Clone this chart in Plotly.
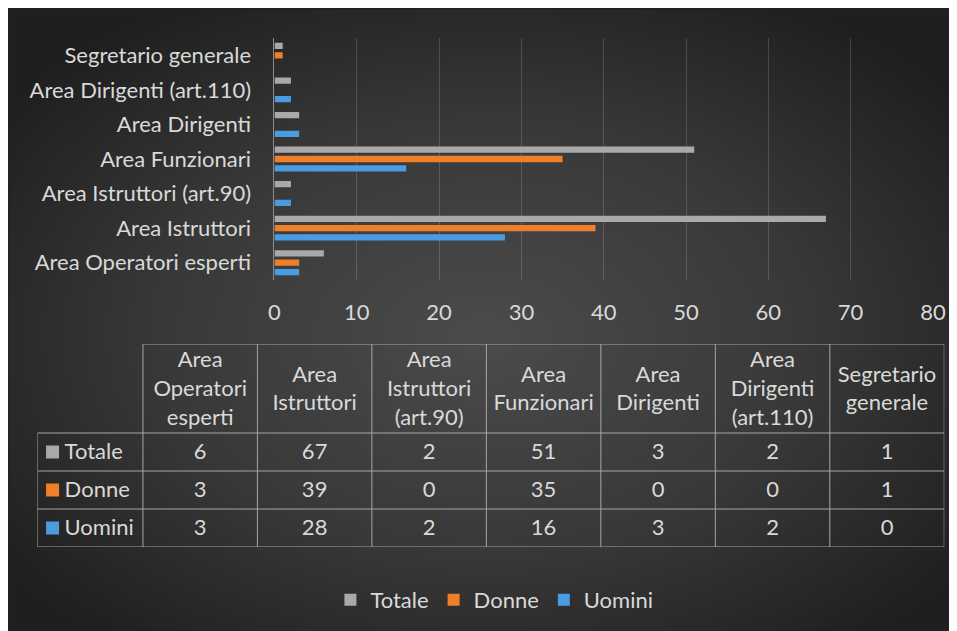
import base64
import plotly.graph_objects as go

# ---- data ----
categories = ["Area Operatori esperti", "Area Istruttori", "Area Istruttori (art.90)",
              "Area Funzionari", "Area Dirigenti", "Area Dirigenti (art.110)",
              "Segretario generale"]
table_headers = ["Area<br>Operatori<br>esperti", "Area<br>Istruttori", "Area<br>Istruttori<br>(art.90)",
                 "Area<br>Funzionari", "Area<br>Dirigenti", "Area<br>Dirigenti<br>(art.110)",
                 "Segretario<br>generale"]
totale = [6, 67, 2, 51, 3, 2, 1]
donne = [3, 39, 0, 35, 0, 0, 1]
uomini = [3, 28, 2, 16, 3, 2, 0]
x_ticks = [0, 10, 20, 30, 40, 50, 60, 70, 80]

series_names = ["Totale", "Donne", "Uomini"]
series_values = [totale, donne, uomini]
series_colors = ["#A9A9A9", "#F07F2A", "#4A9CE2"]

# table geometry (pixels): first column = row labels, first row = header
col_widths = [105] + [114] * len(categories)
row_heights = [89] + [38] * len(series_names)

W, H = 980, 631
FONT = "Lato"
FS = 22
TXT = "#D9D9D9"
LINE = "#A6A6A6"

# mapping from target window pixels to paper fractions
OX, PW = 14.6, 957.0
OY, PH = 8.0, 631.0
def fx(px):
    return (px - OX) / PW
def fy(py):
    return 1 - (py - OY) / PH

fig = go.Figure()

# ---- bars (bottom-to-top within group: Uomini, Donne, Totale) ----
for name, vals, col in reversed(list(zip(series_names, series_values, series_colors))):
    fig.add_trace(go.Bar(y=categories, x=vals, name=name, orientation="h",
                         marker=dict(color=col, line=dict(width=0)),
                         xaxis="x", yaxis="y", hoverinfo="x+name"))

# ---- data table drawn on its own axes (1 unit = 1 px) ----
x_edges = [0]
for w in col_widths:
    x_edges.append(x_edges[-1] + w)
y_edges = [0]
for h in row_heights:
    y_edges.append(y_edges[-1] + h)
x_cent = [(a + b) / 2 for a, b in zip(x_edges[:-1], x_edges[1:])]
y_cent = [(a + b) / 2 for a, b in zip(y_edges[:-1], y_edges[1:])]

fig.add_trace(go.Scatter(x=x_cent[1:], y=[y_cent[0] + 2] * len(categories), text=table_headers,
                         mode="text", textposition="middle center",
                         textfont=dict(family=FONT, size=FS, color=TXT),
                         xaxis="x2", yaxis="y2", showlegend=False, hoverinfo="skip"))
cx, cy, ct = [], [], []
for r, vals in enumerate(series_values):
    for c, v in enumerate(vals):
        cx.append(x_cent[c + 1])
        cy.append(y_cent[r + 1] + 1)
        ct.append(str(v))
fig.add_trace(go.Scatter(x=cx, y=cy, text=ct, mode="text", textposition="middle center",
                         textfont=dict(family=FONT, size=FS, color=TXT),
                         xaxis="x2", yaxis="y2", showlegend=False, hoverinfo="skip"))
fig.add_trace(go.Scatter(x=[15] * len(series_names), y=y_cent[1:], mode="markers",
                         marker=dict(symbol="square", size=13, color=series_colors,
                                     line=dict(width=0)),
                         xaxis="x2", yaxis="y2", showlegend=False, hoverinfo="skip"))
fig.add_trace(go.Scatter(x=[27] * len(series_names), y=[v + 1 for v in y_cent[1:]],
                         text=series_names, mode="text", textposition="middle right",
                         textfont=dict(family=FONT, size=FS, color=TXT),
                         xaxis="x2", yaxis="y2", showlegend=False, hoverinfo="skip"))

shapes = []
def seg(x0, y0, x1, y1):
    shapes.append(dict(type="line", xref="x2", yref="y2", x0=x0, y0=y0, x1=x1, y1=y1,
                       line=dict(color=LINE, width=1), layer="above"))
seg(x_edges[1], y_edges[0], x_edges[-1], y_edges[0])
for yv in y_edges[1:]:
    seg(x_edges[0], yv, x_edges[-1], yv)
seg(x_edges[0], y_edges[1], x_edges[0], y_edges[-1])
for xv in x_edges[1:]:
    seg(xv, y_edges[0], xv, y_edges[-1])

# ---- radial gradient background ----
svg = ('<svg xmlns="http://www.w3.org/2000/svg" viewBox="0 0 100 100" preserveAspectRatio="none">'
       '<defs><radialGradient id="g" cx="0.5" cy="0.52" r="0.62">'
       '<stop offset="0" stop-color="#4b4b4b"/><stop offset="0.55" stop-color="#383838"/>'
       '<stop offset="1" stop-color="#1f1f1f"/></radialGradient></defs>'
       '<rect x="0" y="0" width="100" height="100" fill="url(#g)"/></svg>')
src = "data:image/svg+xml;base64," + base64.b64encode(svg.encode()).decode()

tbl_x0, tbl_y0 = 38, 344

fig.update_layout(
    width=W, height=H,
    margin=dict(l=0, r=0, t=0, b=0),
    paper_bgcolor="#202020", plot_bgcolor="rgba(0,0,0,0)",
    font=dict(family=FONT, size=FS, color=TXT),
    barmode="group", bargap=0.19, bargroupgap=0.33,
    images=[dict(source=src, xref="paper", yref="paper", x=fx(9), y=fy(9),
                 sizex=fx(957) - fx(9), sizey=1, xanchor="left", yanchor="top",
                 sizing="stretch", layer="below")],
    shapes=shapes,
    xaxis=dict(domain=[fx(274), fx(929.7)], range=[0, 80], tickvals=x_ticks,
               showgrid=True, gridcolor="rgba(255,255,255,0.16)", gridwidth=1,
               zeroline=False, showline=False, ticks="", ticklabelstandoff=17,
               tickfont=dict(family=FONT, size=FS, color=TXT), fixedrange=True),
    yaxis=dict(domain=[fy(280), fy(38)], type="category",
               showline=True, linecolor="#8C8C8C", linewidth=1, ticks="",
               showgrid=False, ticklabelstandoff=18,
               tickfont=dict(family=FONT, size=FS, color=TXT), fixedrange=True),
    xaxis2=dict(domain=[fx(tbl_x0), fx(tbl_x0 + x_edges[-1])], range=[0, x_edges[-1]],
                visible=False, fixedrange=True, anchor="y2"),
    yaxis2=dict(domain=[fy(tbl_y0 + y_edges[-1]), fy(tbl_y0)], range=[y_edges[-1], 0],
                visible=False, fixedrange=True, anchor="x2"),
    legend=dict(orientation="h", x=fx(493), xanchor="center", y=fy(600),
                yanchor="middle", traceorder="reversed",
                font=dict(family=FONT, size=FS, color=TXT), bgcolor="rgba(0,0,0,0)"),
    showlegend=True,
)

fig.write_html("out.html")
